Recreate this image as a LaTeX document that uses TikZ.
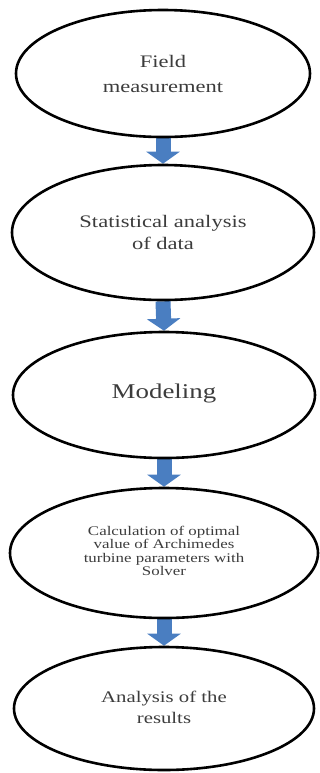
\documentclass[tikz,border=0pt]{standalone}
\usepackage{fontspec}
\newfontfamily\flowfont{Liberation Serif}[FakeStretch=1.28]
\usetikzlibrary{shapes.geometric,arrows.meta,backgrounds}
\definecolor{flowblue}{RGB}{74,126,193}
\definecolor{flowtext}{RGB}{60,60,60}
\tikzset{
  stage/.style={ellipse, draw=black, line width=1.3pt, inner sep=0pt,
    align=center, text=flowtext, font=\flowfont},
  flow/.style={draw=flowblue, line width=7.5pt,
    -{Triangle[width=16.5pt,length=6pt]}}
}
\begin{document}
\begin{tikzpicture}[x=0.5pt, y=-0.5pt]
        \useasboundingbox (0,0) rectangle (320,773);
        \node[stage, minimum width=147pt, minimum height=63.5pt,
              font=\flowfont\fontsize{8.8}{12.5}\selectfont] (field) at (163,73.5)
              {Field\\measurement};
        \node[stage, minimum width=151pt, minimum height=67.5pt,
              font=\flowfont\fontsize{8.8}{11}\selectfont] (stats) at (163,232.5)
              {Statistical analysis\\of data};
        \node[stage, minimum width=151pt, minimum height=63pt,
              font=\flowfont\fontsize{10.5}{12}\selectfont] (model) at (164,395)
              {\raisebox{4pt}{Modeling}};
        \node[stage, minimum width=154pt, minimum height=65pt,
              font=\flowfont\fontsize{6.6}{6.7}\selectfont] (solver) at (164,553)
              {\raisebox{4pt}{\begin{tabular}{@{}c@{}}Calculation of optimal\\value of Archimedes\\turbine parameters with\\Solver\end{tabular}}};
        \node[stage, minimum width=150pt, minimum height=61.5pt,
              font=\flowfont\fontsize{8.1}{10.8}\selectfont] (results) at (164,708.5)
              {\raisebox{3pt}{\begin{tabular}{@{}c@{}}Analysis of the\\results\end{tabular}}};
        % arrows behind the ellipse outlines
        \begin{scope}[on background layer]
        \draw[flow] (field.south) -- (stats.north);
        \draw[flow] (stats.south) -- (model.north);
        \draw[flow] (model.south) -- (solver.north);
        \draw[flow] (solver.south) -- (results.north);
        \end{scope}
\end{tikzpicture}
\end{document}
